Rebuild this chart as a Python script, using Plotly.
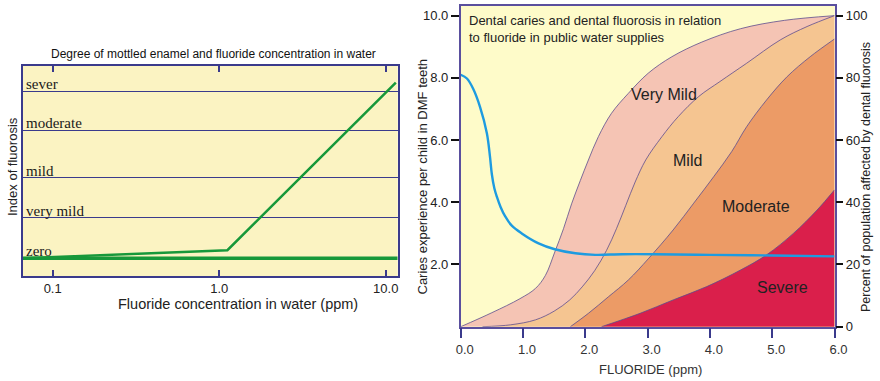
import plotly.graph_objects as go

W, H = 880, 381

# ---------------- Left chart data ----------------
level_names = ["zero", "very mild", "mild", "moderate", "sever"]
level_values = [0, 1.0, 1.985, 3.16, 4.12]
green_x = [0.066, 1.12, 11.5]
green_y = [0, 0.2, 4.33]
base_x = [0.066, 11.8]
base_y = [0, 0]
left_ticks = [0.1, 1, 10]
left_ticktext = ["0.1", "1.0", "10.0"]

# ---------------- Right chart data ----------------
# Percent of population affected (cumulative boundaries)
vmild_x = [0, 0.5, 0.95, 1.2, 1.36, 1.51, 1.65, 1.78, 1.92, 2.05, 2.21, 2.42, 2.69, 3.01, 3.39, 3.87, 4.49, 5.2, 6.0]
vmild_y = [0, 4.5, 9.0, 12.3, 16.5, 24.0, 31.5, 39.5, 47.0, 53.6, 61.1, 68.6, 75.0, 81.5, 86.8, 91.5, 95.8, 98.5, 100]
mild_x = [0.35, 0.8, 1.2, 1.5, 1.75, 1.95, 2.15, 2.34, 2.5, 2.65, 2.8, 2.97, 3.23, 3.49, 3.82, 4.16, 4.59, 5.13, 5.56, 6.0]
mild_y = [0, 0.6, 2.2, 5.0, 8.6, 12.8, 18.0, 24.5, 31.5, 39.0, 46.5, 53.6, 61.1, 67.5, 74.0, 78.8, 84.7, 92.2, 96.5, 100]
mod_x = [1.76, 2.05, 2.37, 2.69, 3.01, 3.41, 3.74, 4.06, 4.35, 4.59, 4.91, 5.24, 5.61, 6.0]
mod_y = [0, 4.3, 9.6, 15.0, 21.8, 31.1, 39.7, 48.2, 56.3, 64.3, 72.9, 80.4, 86.8, 92.5]
sev_x = [2.26, 2.88, 3.41, 3.95, 4.49, 4.91, 5.34, 5.72, 6.0]
sev_y = [0, 4.3, 8.6, 12.9, 18.2, 23.1, 30.0, 37.5, 44.0]
# Caries experience (DMF teeth per child)
caries_x = [0, 0.1, 0.2, 0.31, 0.42, 0.47, 0.5, 0.54, 0.58, 0.64, 0.71, 0.82, 0.98, 1.25, 1.51, 1.84, 2.16, 2.59, 3.12, 4.0, 5.0, 6.0]
caries_y = [8.1, 7.98, 7.65, 7.07, 6.22, 5.47, 4.9, 4.45, 4.18, 3.85, 3.56, 3.25, 3.0, 2.68, 2.49, 2.36, 2.31, 2.33, 2.33, 2.31, 2.29, 2.26]

right_x_ticks = [0, 1, 2, 3, 4, 5, 6]
right_x_text = ["0.0", "1.0", "2.0", "3.0", "4.0", "5.0", "6.0"]
caries_ticks = [2, 4, 6, 8, 10]
caries_text = ["2.0", "4.0", "6.0", "8.0", "10.0"]
pct_ticks = [0, 20, 40, 60, 80, 100]

region_labels = ["Very Mild", "Mild", "Moderate", "Severe"]
region_x = [3.27, 3.64, 4.74, 5.16]
region_y = [74.5, 53.4, 38.6, 12.7]

SANS = "Liberation Sans, Arial, sans-serif"
SERIF = "Liberation Serif, Times New Roman, serif"
NAVY = "#3a3a8c"
PURP = "#5a4f9e"
EDGE = "#5d4d8e"

fig = go.Figure()

# Left chart traces
fig.add_trace(go.Scatter(x=base_x, y=base_y, mode="lines", xaxis="x", yaxis="y",
                         line=dict(color="#17983a", width=3.5), hoverinfo="skip"))
fig.add_trace(go.Scatter(x=green_x, y=green_y, mode="lines", xaxis="x", yaxis="y",
                         line=dict(color="#17983a", width=2.5), hoverinfo="skip"))

# Right chart areas (on y2: percent, right side)
for xs, ys, col in [(vmild_x, vmild_y, "#f5c4b4"), (mild_x, mild_y, "#f5c591"),
                    (mod_x, mod_y, "#ec9b66"), (sev_x, sev_y, "#da1f4b")]:
    fig.add_trace(go.Scatter(x=xs, y=ys, mode="lines", xaxis="x2", yaxis="y2",
                             fill="tozeroy", fillcolor=col,
                             line=dict(color=EDGE, width=0.8, shape="spline", smoothing=1.0),
                             hoverinfo="skip"))

# Caries line (y3: left side, overlaying)
fig.add_trace(go.Scatter(x=caries_x, y=caries_y, mode="lines", xaxis="x2", yaxis="y3",
                         line=dict(color="#1e9be0", width=2.4, shape="spline", smoothing=1.0),
                         hoverinfo="skip"))

def px(v):
    return v / W

def py(v):
    return 1 - v / H

layout = dict(
    width=W, height=H, margin=dict(l=0, r=0, t=0, b=0, pad=0, autoexpand=False),
    paper_bgcolor="white", showlegend=False,
    font=dict(family=SANS, color="#222222", size=13),
    xaxis=dict(type="log", range=[-1.18, 1.072], domain=[px(22.7), px(397.7)], anchor="y",
               tickvals=left_ticks, ticktext=left_ticktext, ticks="inside", ticklen=6,
               tickwidth=1.5, tickcolor=NAVY, showline=True, linecolor=NAVY, linewidth=1.5,
               mirror="ticks", showgrid=False, zeroline=False, automargin=False,
               tickfont=dict(size=13, color="#222222", family=SANS)),
    yaxis=dict(range=[-0.436, 4.74], domain=[py(276), py(66)], anchor="x",
               tickvals=level_values[1:], showticklabels=False, ticks="",
               showgrid=True, gridcolor=NAVY, gridwidth=1.2, automargin=False,
               showline=True, linecolor=NAVY, linewidth=1.5, mirror=True, zeroline=False),
    plot_bgcolor="#fbf3c2",
    xaxis2=dict(range=[0, 6.0], domain=[px(460.7), px(834.5)], anchor="y2",
                tickvals=right_x_ticks, ticktext=right_x_text, ticks="outside", ticklen=10,
                tickwidth=2, tickcolor=NAVY, showline=True, linecolor=PURP, linewidth=1.5,
                mirror=True, showgrid=False, zeroline=False, ticklabelshift=4, automargin=False,
                tickfont=dict(size=13, color="#333333", family=SANS)),
    yaxis2=dict(range=[0, 103.2], domain=[py(326.7), py(5.7)], anchor="x2", side="right",
                tickvals=pct_ticks, ticks="outside", ticklen=7, tickwidth=2, tickcolor="#111111",
                showline=True, linecolor=PURP, linewidth=1.5, showgrid=False, zeroline=False,
                automargin=False, tickfont=dict(size=13, color="#222222", family=SANS)),
    yaxis3=dict(range=[0, 10.32], overlaying="y2", anchor="x2", side="left",
                tickvals=caries_ticks, ticktext=caries_text, ticks="outside", ticklen=8,
                tickwidth=2, tickcolor="#111111", showline=True, linecolor=PURP, linewidth=1.5,
                showgrid=False, zeroline=False, automargin=False,
                tickfont=dict(size=13, color="#222222", family=SANS)),
)
fig.update_layout(**layout)

# right plot background (yellow) via shape below traces
fig.add_shape(type="rect", xref="x2 domain", yref="y2 domain", x0=0, x1=1, y0=0, y1=1,
              fillcolor="#fefbc9", line=dict(width=0), layer="below")

ann = []
C = dict(xanchor="center", yanchor="middle", xref="paper", yref="paper", showarrow=False)
# Left chart texts
ann.append(dict(text="Degree of mottled enamel and fluoride concentration in water",
                x=px(213), y=py(54), font=dict(size=12, family=SANS, color="#111111"), **C))
ann.append(dict(text="Fluoride concentration in water (ppm)", x=px(238), y=py(304),
                font=dict(size=14.5, family=SANS, color="#222222"), **C))
ann.append(dict(text="Index of fluorosis", x=px(12), y=py(167), textangle=-90,
                font=dict(size=13, family=SANS, color="#222222"), **C))
for name, val in zip(level_names, level_values):
    ann.append(dict(text=name, x=px(24), y=val, xref="paper", yref="y", xanchor="left",
                    yanchor="bottom", showarrow=False, yshift=-3,
                    font=dict(size=15, family=SERIF, color="#1a1a1a")))

# Right chart texts
ann.append(dict(text="Dental caries and dental fluorosis in relation<br>to fluoride in public water supplies",
                x=px(467), y=py(11), xref="paper", yref="paper", xanchor="left", yanchor="top",
                align="left", showarrow=False, font=dict(size=13, family=SANS, color="#222222")))
ann.append(dict(text="FLUORIDE (ppm)", x=px(650), y=py(369),
                font=dict(size=13, family=SANS, color="#333333"), **C))
ann.append(dict(text="Caries experience per child in DMF teeth", x=px(421.5), y=py(177),
                textangle=-90, font=dict(size=13, family=SANS, color="#222222"), **C))
ann.append(dict(text="Percent of population affected by dental fluorosis", x=px(866), y=py(177),
                textangle=-90, font=dict(size=12.5, family=SANS, color="#222222"), **C))
for name, xv, yv in zip(region_labels, region_x, region_y):
    ann.append(dict(text=name, x=xv, y=yv, xref="x2", yref="y2", showarrow=False,
                    xanchor="center", yanchor="middle",
                    font=dict(size=16, family=SANS, color="#222222")))

fig.update_layout(annotations=ann)
fig.write_html("out.html")
